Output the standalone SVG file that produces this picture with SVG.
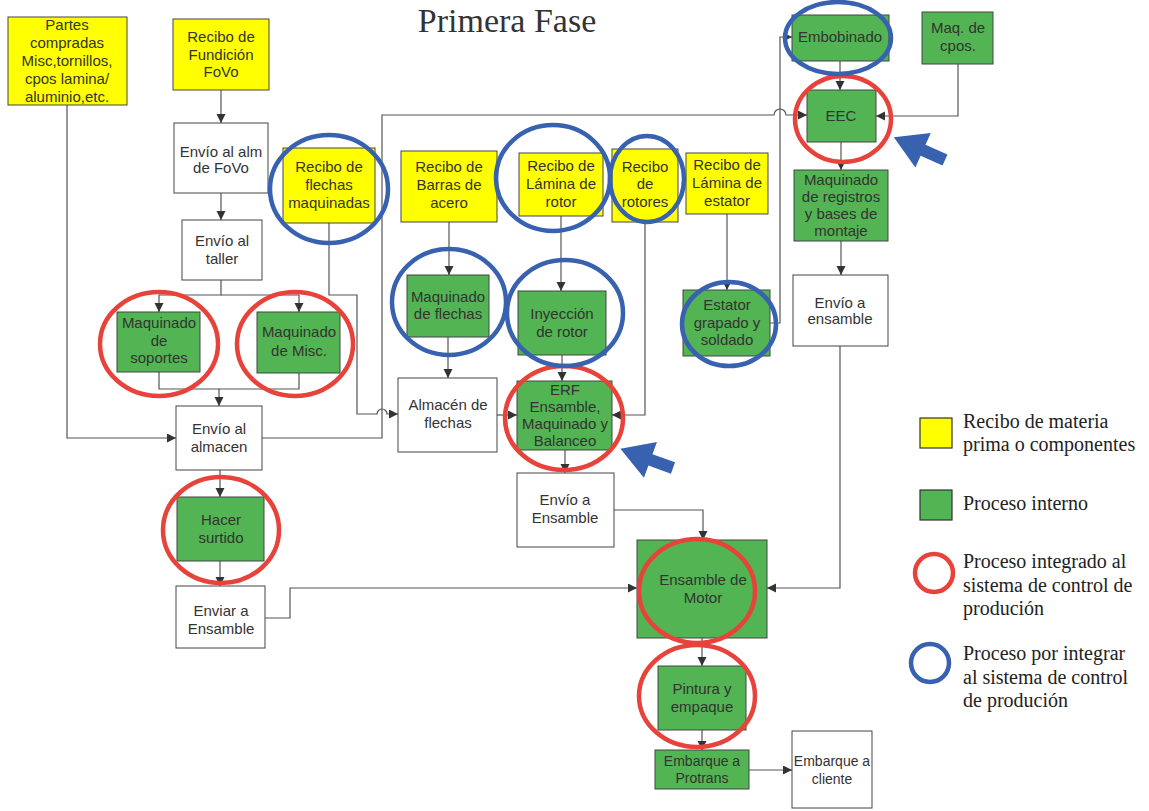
<svg xmlns="http://www.w3.org/2000/svg" width="1149" height="811" viewBox="0 0 1149 811">
<style>
.n{stroke:#444;stroke-width:1}
.y{fill:#ffff00}
.g{fill:#52b452}
.w{fill:#ffffff}
.t{font-family:"Liberation Sans",Arial,sans-serif;font-size:15px;fill:#333;text-anchor:middle}
.s{font-size:14px}
.c{fill:none;stroke:#555;stroke-width:1.2}
.red{fill:none;stroke:#e8433b;stroke-width:4.5}
.blu{fill:none;stroke:#3862b0;stroke-width:4.5}
.lg{font-family:"Liberation Serif","Times New Roman",serif;font-size:20px;fill:#222}
</style>
<defs>
<marker id="ah" markerUnits="userSpaceOnUse" markerWidth="10" markerHeight="10" refX="9" refY="4.5" orient="auto"><path d="M0,0 L9,4.5 L0,9 z" fill="#333"/></marker>
</defs>
<rect width="1149" height="811" fill="#ffffff"/>
<text x="507" y="32" font-family="Liberation Serif,Times New Roman,serif" font-size="34" fill="#333" text-anchor="middle">Primera Fase</text>

<g id="connectors">
<path class="c" d="M67,105 V438 H176" marker-end="url(#ah)"/>
<path class="c" d="M221,90 V123" marker-end="url(#ah)"/>
<path class="c" d="M221,193 V220" marker-end="url(#ah)"/>
<path class="c" d="M221,280 V295 H159 V312" marker-end="url(#ah)"/>
<path class="c" d="M221,295 H299 V312" marker-end="url(#ah)"/>
<path class="c" d="M159,372 V389 H219 V406" marker-end="url(#ah)"/>
<path class="c" d="M299,373 V389 H219"/>
<path class="c" d="M262,438 H382 V115 H774 a6,6 0 0 1 12,0 H807" marker-end="url(#ah)"/>
<path class="c" d="M329,223 V295 H357 V414 H377 a5,5 0 0 1 10,0 H398" marker-end="url(#ah)"/>
<path class="c" d="M449,222 V275" marker-end="url(#ah)"/>
<path class="c" d="M448,337 V378" marker-end="url(#ah)"/>
<path class="c" d="M497,415 H517" marker-end="url(#ah)"/>
<path class="c" d="M561,216 V291" marker-end="url(#ah)"/>
<path class="c" d="M562,355 V381" marker-end="url(#ah)"/>
<path class="c" d="M645,222 V415 H612" marker-end="url(#ah)"/>
<path class="c" d="M727,214 V290" marker-end="url(#ah)"/>
<path class="c" d="M770,323 H780 V37 H792" marker-end="url(#ah)"/>
<path class="c" d="M840,61 V90" marker-end="url(#ah)"/>
<path class="c" d="M958,64 V116 H876" marker-end="url(#ah)"/>
<path class="c" d="M841,142 V170" marker-end="url(#ah)"/>
<path class="c" d="M841,241 V275" marker-end="url(#ah)"/>
<path class="c" d="M840,346 V588 H767" marker-end="url(#ah)"/>
<path class="c" d="M565,450 V473" marker-end="url(#ah)"/>
<path class="c" d="M614,510 H703 V540" marker-end="url(#ah)"/>
<path class="c" d="M220,470 V497" marker-end="url(#ah)"/>
<path class="c" d="M220,561 V586" marker-end="url(#ah)"/>
<path class="c" d="M265,618 H290 V588 H637" marker-end="url(#ah)"/>
<path class="c" d="M702,638 V666" marker-end="url(#ah)"/>
<path class="c" d="M702,730 V750" marker-end="url(#ah)"/>
<path class="c" d="M749,770 H792" marker-end="url(#ah)"/>
</g>

<g id="partes"><rect class="n y" x="8" y="17" width="119" height="88"/><text class="t"><tspan x="67" y="30">Partes</tspan><tspan x="67" y="48">compradas</tspan><tspan x="67" y="66">Misc,tornillos,</tspan><tspan x="67" y="84">cpos lamina/</tspan><tspan x="67" y="102">aluminio,etc.</tspan></text></g>
<g id="fundicion"><rect class="n y" x="173" y="19" width="96" height="71"/><text class="t"><tspan x="221" y="42">Recibo de</tspan><tspan x="221" y="60">Fundición</tspan><tspan x="221" y="77">FoVo</tspan></text></g>
<g id="envio_alm_fovo"><rect class="n w" x="174" y="123" width="94" height="70"/><text class="t"><tspan x="221" y="157">Envío al alm</tspan><tspan x="221" y="173">de FoVo</tspan></text></g>
<g id="envio_taller"><rect class="n w" x="182" y="220" width="80" height="60"/><text class="t"><tspan x="222" y="246">Envío al</tspan><tspan x="222" y="264">taller</tspan></text></g>
<g id="maq_soportes"><rect class="n g" x="117" y="312" width="83" height="60"/><text class="t"><tspan x="159" y="328">Maquinado</tspan><tspan x="159" y="346">de</tspan><tspan x="159" y="363">soportes</tspan></text></g>
<g id="maq_misc"><rect class="n g" x="257" y="312" width="83" height="61"/><text class="t"><tspan x="299" y="337">Maquinado</tspan><tspan x="299" y="356">de Misc.</tspan></text></g>
<g id="envio_almacen"><rect class="n w" x="176" y="406" width="86" height="64"/><text class="t"><tspan x="219" y="434">Envío al</tspan><tspan x="219" y="452">almacen</tspan></text></g>
<g id="hacer_surtido"><rect class="n g" x="177" y="497" width="87" height="64"/><text class="t"><tspan x="221" y="525">Hacer</tspan><tspan x="221" y="543">surtido</tspan></text></g>
<g id="enviar_ensamble"><rect class="n w" x="176" y="586" width="89" height="62"/><text class="t"><tspan x="221" y="616">Enviar a</tspan><tspan x="221" y="634">Ensamble</tspan></text></g>
<g id="recibo_flechas"><rect class="n y" x="283" y="148" width="92" height="75"/><text class="t"><tspan x="329" y="172">Recibo de</tspan><tspan x="329" y="190">flechas</tspan><tspan x="329" y="208">maquinadas</tspan></text></g>
<g id="recibo_barras"><rect class="n y" x="401" y="151" width="96" height="71"/><text class="t"><tspan x="449" y="172">Recibo de</tspan><tspan x="449" y="190">Barras de</tspan><tspan x="449" y="208">acero</tspan></text></g>
<g id="maq_flechas"><rect class="n g" x="407" y="275" width="82" height="62"/><text class="t"><tspan x="448" y="302">Maquinado</tspan><tspan x="448" y="319">de flechas</tspan></text></g>
<g id="almacen_flechas"><rect class="n w" x="398" y="378" width="99" height="74"/><text class="t"><tspan x="448" y="410">Almacén de</tspan><tspan x="448" y="428">flechas</tspan></text></g>
<g id="recibo_lamina_rotor"><rect class="n y" x="519" y="153" width="84" height="63"/><text class="t"><tspan x="561" y="171">Recibo de</tspan><tspan x="561" y="189">Lámina de</tspan><tspan x="561" y="207">rotor</tspan></text></g>
<g id="inyeccion"><rect class="n g" x="518" y="291" width="88" height="64"/><text class="t"><tspan x="562" y="319">Inyección</tspan><tspan x="562" y="337">de rotor</tspan></text></g>
<g id="erf"><rect class="n g" x="517" y="381" width="95" height="69"/><text class="t"><tspan x="565" y="395">ERF</tspan><tspan x="565" y="412">Ensamble,</tspan><tspan x="565" y="429">Maquinado y</tspan><tspan x="565" y="446">Balanceo</tspan></text></g>
<g id="recibo_rotores"><rect class="n y" x="612" y="149" width="66" height="73"/><text class="t"><tspan x="645" y="172">Recibo</tspan><tspan x="645" y="189">de</tspan><tspan x="645" y="207">rotores</tspan></text></g>
<g id="recibo_estator"><rect class="n y" x="686" y="153" width="82" height="61"/><text class="t"><tspan x="727" y="170">Recibo de</tspan><tspan x="727" y="188">Lámina de</tspan><tspan x="727" y="206">estator</tspan></text></g>
<g id="estator"><rect class="n g" x="683" y="290" width="87" height="66"/><text class="t"><tspan x="727" y="310">Estator</tspan><tspan x="727" y="328">grapado y</tspan><tspan x="727" y="345">soldado</tspan></text></g>
<g id="embobinado"><rect class="n g" x="792" y="15" width="97" height="46"/><text class="t"><tspan x="840" y="42">Embobinado</tspan></text></g>
<g id="maq_cpos"><rect class="n g" x="922" y="12" width="71" height="52"/><text class="t"><tspan x="958" y="33">Maq. de</tspan><tspan x="958" y="51">cpos.</tspan></text></g>
<g id="eec"><rect class="n g" x="807" y="90" width="69" height="52"/><text class="t"><tspan x="841" y="121">EEC</tspan></text></g>
<g id="maq_registros"><rect class="n g" x="794" y="170" width="94" height="71"/><text class="t"><tspan x="841" y="185">Maquinado</tspan><tspan x="841" y="202">de registros</tspan><tspan x="841" y="219">y bases de</tspan><tspan x="841" y="236">montaje</tspan></text></g>
<g id="envio_a_ensamble_der"><rect class="n w" x="793" y="275" width="95" height="71"/><text class="t"><tspan x="840" y="308">Envío  a</tspan><tspan x="840" y="324">ensamble</tspan></text></g>
<g id="envio_a_ensamble_centro"><rect class="n w" x="517" y="473" width="97" height="74"/><text class="t"><tspan x="565" y="505">Envío a</tspan><tspan x="565" y="523">Ensamble</tspan></text></g>
<g id="ensamble_motor"><rect class="n g" x="637" y="540" width="130" height="98"/><text class="t"><tspan x="703" y="585">Ensamble de</tspan><tspan x="703" y="603">Motor</tspan></text></g>
<g id="pintura"><rect class="n g" x="658" y="666" width="88" height="64"/><text class="t"><tspan x="702" y="694">Pintura y</tspan><tspan x="702" y="712">empaque</tspan></text></g>
<g id="embarque_protrans"><rect class="n g" x="655" y="750" width="94" height="39"/><text class="t s"><tspan x="702" y="766">Embarque a</tspan><tspan x="702" y="783">Protrans</tspan></text></g>
<g id="embarque_cliente"><rect class="n w" x="792" y="731" width="80" height="77"/><text class="t s"><tspan x="832" y="766">Embarque a</tspan><tspan x="832" y="784">cliente</tspan></text></g>

<g id="marcas">
<ellipse class="red" cx="159" cy="344" rx="59" ry="52"/>
<ellipse class="red" cx="295" cy="344" rx="58" ry="52"/>
<ellipse class="red" cx="221" cy="530" rx="58" ry="53"/>
<ellipse class="red" cx="564" cy="418" rx="59" ry="52"/>
<ellipse class="red" cx="843" cy="119" rx="48" ry="43"/>
<ellipse class="red" cx="697" cy="591" rx="58" ry="52"/>
<ellipse class="red" cx="697" cy="696" rx="58" ry="51"/>
<ellipse class="blu" cx="329" cy="189" rx="59" ry="54"/>
<ellipse class="blu" cx="449" cy="302" rx="57" ry="53"/>
<ellipse class="blu" cx="553" cy="178" rx="57" ry="53"/>
<ellipse class="blu" cx="647" cy="179" rx="37" ry="43"/>
<ellipse class="blu" cx="565" cy="313" rx="58" ry="53"/>
<ellipse class="blu" cx="729" cy="324" rx="47" ry="42"/>
<ellipse class="blu" cx="838" cy="38" rx="53" ry="36"/>
<polygon fill="#3862b0" transform="translate(945,160) rotate(204)" points="0,-6 24,-6 24,-19 56,0 24,19 24,6 0,6"/>
<polygon fill="#3862b0" transform="translate(673,468) rotate(200)" points="0,-6 24,-6 24,-19 56,0 24,19 24,6 0,6"/>
</g>

<g id="leyenda">
<rect x="920" y="418" width="32" height="30" fill="#ffff00" stroke="#333" stroke-width="1.2"/>
<text class="lg"><tspan x="963" y="428">Recibo de materia</tspan><tspan x="963" y="451">prima o componentes</tspan></text>
<rect x="920" y="490" width="32" height="30" fill="#52b452" stroke="#333" stroke-width="1.2"/>
<text class="lg" x="963" y="510">Proceso interno</text>
<circle cx="934" cy="573" r="19" class="red"/>
<text class="lg"><tspan x="963" y="568">Proceso integrado al</tspan><tspan x="963" y="592">sistema de control de</tspan><tspan x="963" y="615">produción</tspan></text>
<circle cx="930" cy="663" r="19" class="blu"/>
<text class="lg"><tspan x="963" y="660">Proceso por integrar</tspan><tspan x="963" y="684">al sistema de control</tspan><tspan x="963" y="707">de produción</tspan></text>
</g>
</svg>
